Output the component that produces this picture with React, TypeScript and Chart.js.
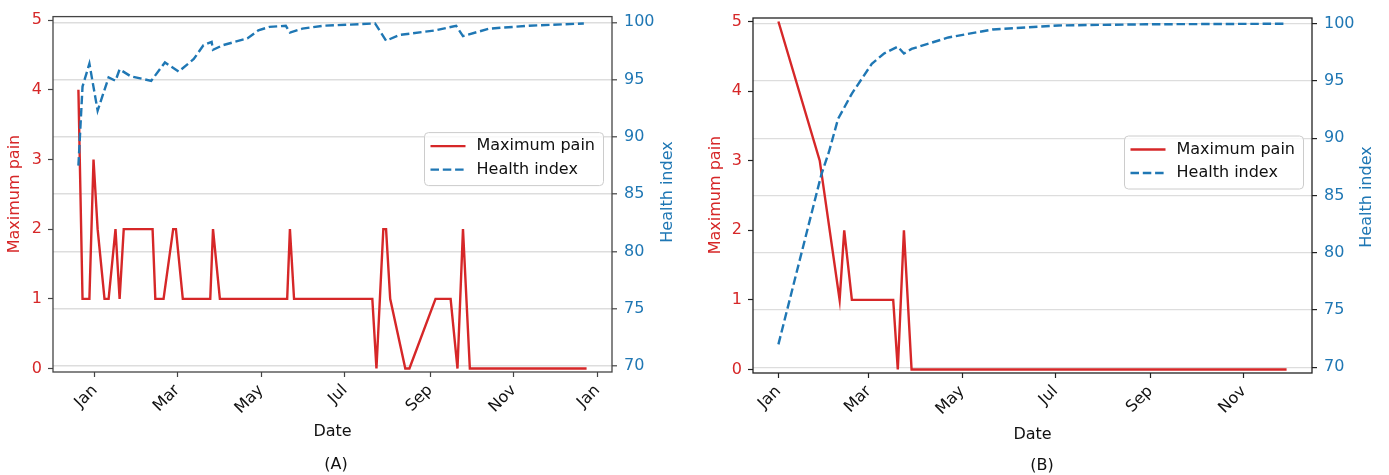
import React, { useEffect, useRef } from 'react';
import { Chart, registerables } from 'chart.js';

Chart.register(...registerables);

const FONT = "'DejaVu Sans', 'Liberation Sans', sans-serif";
const RED = '#d62728';
const BLUE = '#1f77b4';

// ---------- Panel (A) data ----------
const painDatesA = [
  '2019-12-20', '2019-12-23', '2019-12-28', '2019-12-31', '2020-01-03', '2020-01-08', '2020-01-11',
  '2020-01-16', '2020-01-19', '2020-01-22', '2020-02-12', '2020-02-14', '2020-02-20', '2020-02-27',
  '2020-02-29', '2020-03-05', '2020-03-25', '2020-03-27', '2020-04-01', '2020-05-20', '2020-05-22',
  '2020-05-25', '2020-07-21', '2020-07-24', '2020-07-29', '2020-07-31', '2020-08-03', '2020-08-14',
  '2020-08-17', '2020-09-05', '2020-09-16', '2020-09-21', '2020-09-25', '2020-09-30', '2020-12-24',
];
const painValuesA = [
  4, 1, 1, 3, 2, 1, 1,
  2, 1, 2, 2, 1, 1, 2,
  2, 1, 1, 2, 1, 1, 2,
  1, 1, 0, 2, 2, 1, 0,
  0, 1, 1, 0, 2, 0, 0,
];
const healthDatesA = [
  '2019-12-20', '2019-12-23', '2019-12-28', '2020-01-03', '2020-01-11', '2020-01-16', '2020-01-19',
  '2020-01-27', '2020-02-11', '2020-02-21', '2020-03-02', '2020-03-13', '2020-03-20', '2020-03-26',
  '2020-03-27', '2020-04-03', '2020-04-21', '2020-04-29', '2020-05-07', '2020-05-19', '2020-05-22',
  '2020-05-31', '2020-06-15', '2020-07-23', '2020-07-31', '2020-08-10', '2020-09-05', '2020-09-20',
  '2020-09-25', '2020-10-14', '2020-11-12', '2020-12-22',
];
const healthValuesA = [
  87.5, 94.4, 96.4, 92.3, 95.2, 94.9, 95.9,
  95.3, 94.9, 96.5, 95.7, 96.8, 98.0, 98.3,
  97.6, 98.0, 98.6, 99.3, 99.6, 99.7, 99.1,
  99.45, 99.7, 99.9, 98.4, 98.9, 99.3, 99.7,
  98.8, 99.45, 99.7, 99.9,
];
const tickDatesA = ['2020-01-01', '2020-03-01', '2020-05-01', '2020-07-01', '2020-09-01', '2020-11-01', '2021-01-01'];
const tickLabelsA = ['Jan', 'Mar', 'May', 'Jul', 'Sep', 'Nov', 'Jan'];

// ---------- Panel (B) data ----------
const painDatesB = [
  '2021-01-01', '2021-01-28', '2021-02-10', '2021-02-13', '2021-02-18',
  '2021-03-17', '2021-03-20', '2021-03-24', '2021-03-29', '2021-11-29',
];
const painValuesB = [5, 3, 1, 2, 1, 1, 0, 2, 0, 0];
const healthDatesB = [
  '2021-01-01', '2021-01-29', '2021-02-03', '2021-02-09', '2021-02-18', '2021-03-03', '2021-03-11',
  '2021-03-20', '2021-03-24', '2021-03-29', '2021-04-22', '2021-05-21', '2021-07-03', '2021-08-29',
  '2021-11-29',
];
const healthValuesB = [
  72.0, 86.8, 88.8, 91.7, 93.9, 96.5, 97.4,
  98.0, 97.4, 97.8, 98.8, 99.5, 99.85, 99.95,
  100.0,
];
const tickDatesB = ['2021-01-01', '2021-03-01', '2021-05-01', '2021-07-01', '2021-09-01', '2021-11-01'];
const tickLabelsB = ['Jan', 'Mar', 'May', 'Jul', 'Sep', 'Nov'];

// ---------- shared axes ----------
const painTicks = [0, 1, 2, 3, 4, 5];
const healthTicks = [70, 75, 80, 85, 90, 95, 100];
const painLimits = [-0.05, 5.05];
const healthLimits = [69.5, 100.5];
const seriesNames = ['Maximum pain', 'Health index'];
const axisTitles = { x: 'Date', left: 'Maximum pain', right: 'Health index' };

const toDay = (s: string) => Date.parse(s + 'T00:00:00Z') / 86400000;

type Panel = {
  left: number; width: number; height: number;
  area: { left: number; top: number; right: number; bottom: number };
  painDates: string[]; painValues: number[];
  healthDates: string[]; healthValues: number[];
  tickDates: string[]; tickLabels: string[];
  caption: string;
  spine: string; gridWidth: number;
  legendTop: number;
  titlePos: { leftX: number; leftY: number; rightX: number; rightY: number; dateY: number; capX: number; capY: number };
};

const panels: Panel[] = [
  {
    left: 0, width: 690, height: 475,
    area: { left: 53, top: 16, right: 612, bottom: 372 },
    painDates: painDatesA, painValues: painValuesA,
    healthDates: healthDatesA, healthValues: healthValuesA,
    tickDates: tickDatesA, tickLabels: tickLabelsA,
    caption: '(A)', spine: '#444', gridWidth: 1.6, legendTop: 116,
    titlePos: { leftX: 15, leftY: 194, rightX: 668, rightY: 192, dateY: 432, capX: 336, capY: 465 },
  },
  {
    left: 690, width: 699, height: 475,
    area: { left: 63, top: 18, right: 622, bottom: 373 },
    painDates: painDatesB, painValues: painValuesB,
    healthDates: healthDatesB, healthValues: healthValuesB,
    tickDates: tickDatesB, tickLabels: tickLabelsB,
    caption: '(B)', spine: '#222', gridWidth: 1.2, legendTop: 118,
    titlePos: { leftX: 26, leftY: 195, rightX: 677, rightY: 197, dateY: 435, capX: 352, capY: 466 },
  },
];

function drawText(ctx: CanvasRenderingContext2D, s: string, x: number, y: number, color: string, rot = 0, align: CanvasTextAlign = 'center') {
  ctx.save();
  ctx.translate(x, y);
  ctx.rotate(rot);
  ctx.fillStyle = color;
  ctx.font = `16px ${FONT}`;
  ctx.textAlign = align;
  ctx.textBaseline = 'middle';
  ctx.fillText(s, 0, 0);
  ctx.restore();
}

function makeChart(canvas: HTMLCanvasElement, p: Panel) {
  const painPts = p.painDates.map((d, i) => ({ x: toDay(d), y: p.painValues[i] }));
  const healthPts = p.healthDates.map((d, i) => ({ x: toDay(d), y: p.healthValues[i] }));
  const days = [...painPts, ...healthPts].map((q) => q.x);
  const lo = Math.min(...days);
  const hi = Math.max(...days);
  const m = (hi - lo) * 0.05;
  const tickVals = p.tickDates.map(toDay);

  const decor = {
    id: 'decor',
    afterDatasetsDraw(chart: any) {
      const { ctx, chartArea: a } = chart;
      ctx.save();
      // frame (spines)
      ctx.strokeStyle = p.spine;
      ctx.lineWidth = 1.3;
      ctx.strokeRect(a.left, a.top, a.right - a.left, a.bottom - a.top);
      // legend
      const w = 179, h = 53;
      const bx = a.right - 8.5 - w;
      const by = a.top + p.legendTop;
      ctx.beginPath();
      const r = 4;
      ctx.moveTo(bx + r, by);
      ctx.arcTo(bx + w, by, bx + w, by + h, r);
      ctx.arcTo(bx + w, by + h, bx, by + h, r);
      ctx.arcTo(bx, by + h, bx, by, r);
      ctx.arcTo(bx, by, bx + w, by, r);
      ctx.closePath();
      ctx.fillStyle = 'rgba(255,255,255,0.8)';
      ctx.fill();
      ctx.strokeStyle = '#cccccc';
      ctx.lineWidth = 1;
      ctx.stroke();
      const rows = [by + 13.5, by + 37];
      // red solid
      ctx.beginPath();
      ctx.strokeStyle = RED;
      ctx.lineWidth = 2.4;
      ctx.setLineDash([]);
      ctx.moveTo(bx + 6, rows[0]);
      ctx.lineTo(bx + 41, rows[0]);
      ctx.stroke();
      // blue dashed
      ctx.beginPath();
      ctx.strokeStyle = BLUE;
      ctx.setLineDash([8.5, 3.8]);
      ctx.moveTo(bx + 6, rows[1]);
      ctx.lineTo(bx + 41, rows[1]);
      ctx.stroke();
      ctx.setLineDash([]);
      drawText(ctx, seriesNames[0], bx + 52, rows[0], '#111', 0, 'left');
      drawText(ctx, seriesNames[1], bx + 52, rows[1], '#111', 0, 'left');
      ctx.restore();
    },
    afterDraw(chart: any) {
      const { ctx, chartArea: a } = chart;
      const t = p.titlePos;
      drawText(ctx, axisTitles.left, t.leftX, t.leftY, RED, -Math.PI / 2);
      drawText(ctx, axisTitles.right, t.rightX, t.rightY, BLUE, -Math.PI / 2);
      drawText(ctx, axisTitles.x, (a.left + a.right) / 2, t.dateY, '#111');
      drawText(ctx, p.caption, t.capX, t.capY, '#111');
    },
  };

  const tickFont = { family: FONT, size: 16 };

  return new Chart(canvas, {
    type: 'line',
    data: {
      datasets: [
        {
          label: seriesNames[1], data: healthPts, yAxisID: 'yH',
          borderColor: BLUE, backgroundColor: BLUE, borderWidth: 2.4, borderDash: [8.5, 3.8],
          pointRadius: 0, tension: 0, fill: false, order: 0,
        },
        {
          label: seriesNames[0], data: painPts, yAxisID: 'yP',
          borderColor: RED, backgroundColor: RED, borderWidth: 2.4,
          pointRadius: 0, tension: 0, fill: false, order: 1,
        },
      ],
    },
    options: {
      responsive: false,
      animation: false,
      events: [],
      layout: { padding: { top: p.area.top, left: 0, right: 0, bottom: 0 } },
      plugins: { legend: { display: false }, tooltip: { enabled: false }, title: { display: false } },
      scales: {
        x: {
          type: 'linear', position: 'bottom', min: lo - m, max: hi + m,
          afterBuildTicks: (s: any) => { s.ticks = tickVals.map((v) => ({ value: v })); },
          afterFit: (s: any) => { s.height = p.height - p.area.bottom; },
          ticks: {
            autoSkip: false, minRotation: 45, maxRotation: 45, color: '#111', font: tickFont, padding: 4,
            callback: (v: any) => {
              const i = tickVals.findIndex((t) => Math.abs(t - v) < 1e-6);
              return i >= 0 ? p.tickLabels[i] : '';
            },
          },
          grid: { drawOnChartArea: false, tickLength: 5, tickColor: p.spine, tickWidth: 1.2 },
          border: { display: false },
        },
        yP: {
          type: 'linear', position: 'left', min: painLimits[0], max: painLimits[1],
          afterBuildTicks: (s: any) => { s.ticks = painTicks.map((v) => ({ value: v })); },
          afterFit: (s: any) => { s.width = p.area.left; },
          ticks: { color: RED, font: tickFont, padding: 6, callback: (v: any) => String(v) },
          grid: { drawOnChartArea: false, tickLength: 5, tickColor: p.spine, tickWidth: 1.2 },
          border: { display: false },
        },
        yH: {
          type: 'linear', position: 'right', min: healthLimits[0], max: healthLimits[1],
          afterBuildTicks: (s: any) => { s.ticks = healthTicks.map((v) => ({ value: v })); },
          afterFit: (s: any) => { s.width = p.width - p.area.right; },
          ticks: { color: BLUE, font: tickFont, padding: 7, callback: (v: any) => String(v) },
          grid: { color: '#dddddd', lineWidth: p.gridWidth, tickLength: 5, tickColor: p.spine, tickWidth: 1.2 },
          border: { display: false },
        },
      },
    },
    plugins: [decor],
  } as any);
}

function PanelChart({ p }: { p: Panel }) {
  const ref = useRef<HTMLCanvasElement>(null);
  useEffect(() => {
    if (!ref.current) return;
    const chart = makeChart(ref.current, p);
    return () => chart.destroy();
  }, [p]);
  return (
    <canvas
      ref={ref}
      width={p.width}
      height={p.height}
      style={{ position: 'absolute', left: p.left, top: 0, width: p.width, height: p.height }}
    />
  );
}

export default function App() {
  return (
    <div style={{ position: 'absolute', left: 0, top: 0, width: 1389, height: 475, background: '#fff', overflow: 'hidden' }}>
      {panels.map((p) => (
        <PanelChart key={p.caption} p={p} />
      ))}
    </div>
  );
}
